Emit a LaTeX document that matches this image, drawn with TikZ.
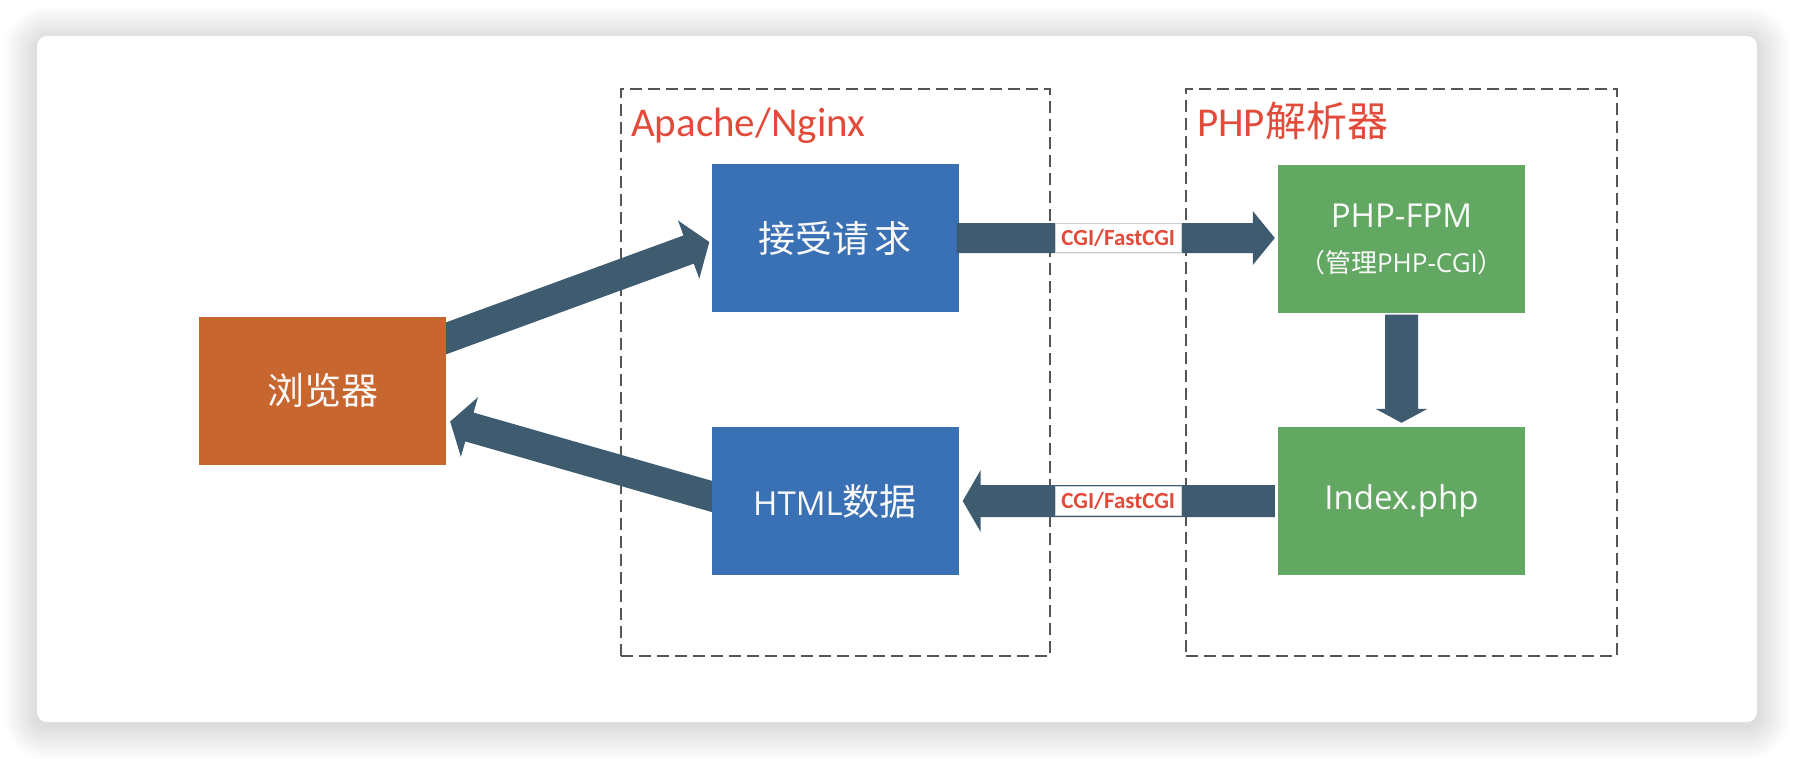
\documentclass[tikz,border=0pt]{standalone}
\usepackage{fontspec}
\setmainfont{Open Sans}
\newfontfamily\cjk{Noto Sans CJK SC}
\newfontfamily\calib{Carlito}
\usetikzlibrary{calc}
\definecolor{myblue}{RGB}{58,112,180}
\definecolor{mygreen}{RGB}{99,168,98}
\definecolor{myorange}{RGB}{200,102,48}
\definecolor{arrowc}{RGB}{62,91,112}
\definecolor{dashc}{RGB}{85,85,85}
\definecolor{labred}{RGB}{226,74,58}
\definecolor{lblborder}{RGB}{200,208,216}
\newcommand\boxtxt{\fontsize{33}{40}\selectfont}
\newcommand\cjktxt{\fontsize{37}{40}\selectfont\cjk}
\newcommand\blkarrow[5]{%
  \coordinate (tmpb) at ($(#2)!#4!(#1)$);
  \fill[arrowc] ($(#1)!#3!90:(#2)$) -- ($(tmpb)!#3!90:(#2)$) -- ($(tmpb)!#5!90:(#2)$) -- (#2)
    -- ($(tmpb)!#5!-90:(#2)$) -- ($(tmpb)!#3!-90:(#2)$) -- ($(#1)!#3!-90:(#2)$) -- cycle;}
\tikzset{
  box/.style={minimum width=247pt, minimum height=148pt, inner sep=0pt, text=white!95!gray},
  bluebox/.style={box, fill=myblue},
  greenbox/.style={box, fill=mygreen},
  orangebox/.style={box, fill=myorange},
  dashbox/.style={draw=dashc, line width=2pt, dash pattern=on 12pt off 6pt, inner sep=0pt},
  redlab/.style={inner sep=0pt, text=labred, font=\calib\fontsize{41}{44}\selectfont},
  cgilab/.style={fill=white, draw=lblborder, line width=1.2pt, inner sep=0pt,
    minimum width=126pt, minimum height=29pt, text=labred,
    font=\calib\bfseries\fontsize{23}{26}\selectfont},
}
\begin{document}
\begin{tikzpicture}[x=1pt,y=-1pt]
\useasboundingbox (0,0) rectangle (1794,758);
\fill[white] (0,0) rectangle (1794,758);
% shadow
\foreach \i in {1,...,34} {
  \pgfmathsetmacro\rr{10+\i}
  \fill[black, opacity=0.0055, rounded corners=\rr pt] (37-\i,36-\i+4) rectangle (1757+\i,722+\i+4);
}
\fill[white, rounded corners=10pt] (37,36) rectangle (1757,722);

% group boxes
\node[dashbox, minimum width=429pt, minimum height=567pt] (g1) at (835.5,372.5) {};
\node[dashbox, minimum width=431pt, minimum height=567pt] (g2) at (1401.5,372.5) {};
\node[redlab, anchor=base west] (l1) at ($(g1.north west)+(11,48)$) {Apache/Nginx};
\node[redlab, anchor=base west] (l2) at ($(g2.north west)+(12,48)$) {PHP{\cjk 解析器}};

% main boxes
\node[orangebox] (browser) at (322.5,390.5) {\cjktxt 浏览器};
\node[bluebox] (req) at (835,238) {\cjktxt 接受请\hspace{5pt}求};
\node[bluebox] (html) at (835,501) {\boxtxt HTML{\cjktxt 数据}};
\node[greenbox] (fpm) at (1401.5,238.5) {};
\node[greenbox] (idx) at (1401.5,501) {\boxtxt Index.php};
\node[inner sep=0pt, text=white!95!gray] (fpm1) at ($(fpm.center)+(0,-23)$) {\boxtxt PHP-FPM};
\node[inner sep=0pt, text=white!95!gray] (fpm2) at ($(fpm.center)+(0,24)$)
  {\fontsize{26}{28}\selectfont{\cjk （管理}PHP-CGI{\cjk ）}};

% arrows
\coordinate (d1s) at ($(browser.east)+(-6,-50)$);
\coordinate (d1e) at ($(req.west)+(-2,4)$);
\coordinate (d2s) at ($(html.west)+(6,-3)$);
\coordinate (d2e) at ($(browser.east)+(4,31)$);
\coordinate (h1s) at ($(req.east)+(-2,0)$);
\coordinate (h1e) at ($(fpm.west)+(-3,-0.5)$);
\coordinate (h2s) at ($(idx.west)+(-3,0)$);
\coordinate (h2e) at ($(html.east)+(4,0)$);
\coordinate (vs) at ($(fpm.south)+(0,2)$);
\coordinate (ve) at ($(idx.north)+(0,-4)$);
\blkarrow{h1s}{h1e}{15pt}{22pt}{27pt}
\blkarrow{h2s}{h2e}{16pt}{18pt}{31pt}
\blkarrow{vs}{ve}{16.5pt}{14pt}{26pt}
\blkarrow{d1s}{d1e}{15pt}{22pt}{31pt}
\blkarrow{d2s}{d2e}{15pt}{20pt}{31pt}

% redraw boxes over arrow tails
\node[orangebox] at (browser.center) {\cjktxt 浏览器};
\node[bluebox] at (html.center) {\boxtxt HTML{\cjktxt 数据}};

% protocol labels
\node[cgilab] (c1) at ($(req.east)!0.5!(fpm.west)$) {CGI/FastCGI};
\node[cgilab] (c2) at ($(html.east)!0.5!(idx.west)$) {CGI/FastCGI};
\end{tikzpicture}
\end{document}
